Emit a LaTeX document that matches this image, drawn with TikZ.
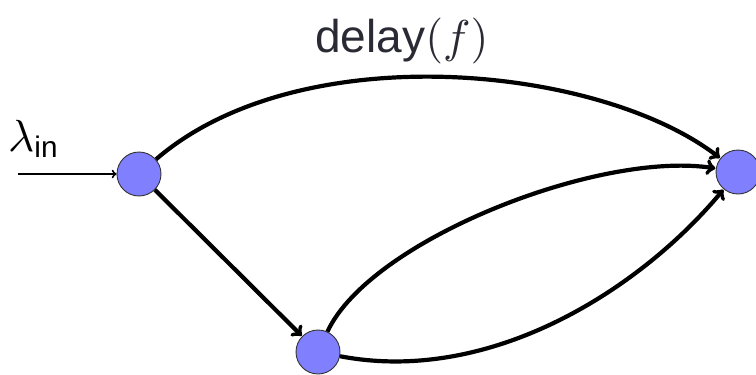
\documentclass[tikz,border=0pt]{standalone}
\usepackage{graphicx}
\usepackage{fontspec}
\setsansfont{Liberation Sans}
\begin{document}
\begin{tikzpicture}[x=1pt,y=-1pt,
  vert/.style={circle,draw=black!80,line width=0.9pt,fill={rgb,255:red,128;green,128;blue,255},minimum size=44pt,inner sep=0pt},
  edge/.style={line width=4.2pt,->,shorten >=0.5pt},
  inedge/.style={line width=2pt,->}]
\useasboundingbox (0,0) rectangle (756,375);
\node[vert] (A) at (139,174) {};
\node[vert] (B) at (318,352) {};
\node[vert] (C) at (738,172) {};
\coordinate (in) at (18,174);
\draw[inedge] (in) -- (A);
\node[anchor=base west,inner sep=0pt] (lab) at (8,151) {\scalebox{4.5}{$\lambda_{\textsf{\fontsize{6.6}{7}\selectfont in}}$}};
\node[anchor=base,inner sep=0pt,text={rgb,255:red,42;green,42;blue,52}] (title) at (402,52) {\scalebox{4.6}{\textsf{delay}$(f)$}};
\draw[edge] (A) .. controls (300,35) and (600,65) .. (C);
\draw[edge] (A) -- (B);
\draw[edge] (B) .. controls (370,240) and (600,150) .. (C);
\draw[edge] (B) .. controls (490,385) and (640,290) .. (C);
\end{tikzpicture}
\end{document}
